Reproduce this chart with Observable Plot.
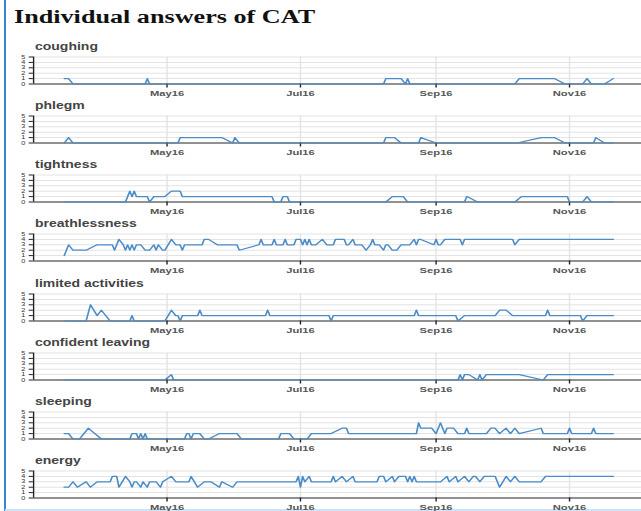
<!DOCTYPE html>
<html>
<head>
<meta charset="utf-8">
<script src="https://cdn.jsdelivr.net/npm/d3@7"></script>
<script src="https://cdn.jsdelivr.net/npm/@observablehq/plot@0.6"></script>
<style>
  html, body { margin: 0; padding: 0; background: #fff; }
  #page { position: relative; width: 641px; height: 511px; overflow: hidden; }
  #border { position: absolute; left: 4px; top: 0; width: 2px; height: 511px; background: #3a86d6; }
  #bottom { position: absolute; left: 5px; top: 509px; width: 636px; height: 2px; background: #cfe3f7; }
  #wrap { position: absolute; left: 0; top: 0; width: 458px; height: 511px; transform: scale(1.3996, 1); transform-origin: 0 0; }
  .title { position: absolute; left: 10px; top: 8px; font: bold 18.7px "Liberation Serif", "Times New Roman", serif; line-height: 18px; color: #111; white-space: nowrap; }
  .lbl { position: absolute; left: 25px; font: bold 10px "Liberation Sans", Arial, sans-serif; line-height: 12px; color: #444; white-space: nowrap; }
  .panel { position: absolute; left: 0; }
</style>
</head>
<body>
<div id="page">
  <div id="border"></div>
  <div id="bottom"></div>
  <div id="wrap"></div>
</div>
<script>
const titleText = "Individual answers of CAT";
const seriesNames = ["coughing", "phlegm", "tightness", "breathlessness", "limited activities", "confident leaving", "sleeping", "energy"];
const monthTicks = ["2016-05-01", "2016-07-01", "2016-09-01", "2016-11-01"];
const yTicks = [0, 1, 2, 3, 4, 5];
const xDomain = ["2016-03-01", "2016-12-04"];

const coughing = [["2016-03-15",1],["2016-03-17",1],["2016-03-19",0],["2016-04-21",0],["2016-04-22",1],["2016-04-23",0],["2016-08-08",0],["2016-08-09",1],["2016-08-16",1],["2016-08-18",0],["2016-08-19",1],["2016-08-20",0],["2016-10-07",0],["2016-10-09",1],["2016-10-25",1],["2016-10-30",0],["2016-11-07",0],["2016-11-09",1],["2016-11-11",0],["2016-11-17",0],["2016-11-21",1]];

const phlegm = [["2016-03-15",0],["2016-03-17",1],["2016-03-19",0],["2016-05-06",0],["2016-05-07",1],["2016-05-26",1],["2016-05-31",0],["2016-06-01",1],["2016-06-03",0],["2016-08-08",0],["2016-08-09",1],["2016-08-13",1],["2016-08-16",0],["2016-08-24",0],["2016-08-25",1],["2016-09-01",0],["2016-10-08",0],["2016-10-19",1],["2016-10-25",1],["2016-10-30",0],["2016-11-12",0],["2016-11-13",1],["2016-11-17",0],["2016-11-21",0]];

const tightness = [["2016-03-15",0],["2016-04-12",0],["2016-04-14",2],["2016-04-15",1],["2016-04-16",2],["2016-04-17",1],["2016-04-22",1],["2016-04-23",0],["2016-04-25",1],["2016-04-30",1],["2016-05-03",2],["2016-05-07",2],["2016-05-08",1],["2016-06-18",1],["2016-06-19",0],["2016-06-22",0],["2016-06-23",1],["2016-06-25",1],["2016-06-26",0],["2016-08-09",0],["2016-08-12",1],["2016-08-17",1],["2016-08-19",0],["2016-09-14",0],["2016-09-15",1],["2016-09-20",0],["2016-10-07",0],["2016-10-10",1],["2016-10-31",1],["2016-11-01",0],["2016-11-07",0],["2016-11-09",1],["2016-11-11",0],["2016-11-21",0]];

const breathlessness = [["2016-03-15",1],["2016-03-17",3],["2016-03-19",2],["2016-03-25",2],["2016-03-30",3],["2016-04-06",3],["2016-04-07",2],["2016-04-09",4],["2016-04-11",3],["2016-04-12",2],["2016-04-13",3],["2016-04-14",2],["2016-04-15",3],["2016-04-16",2],["2016-04-17",3],["2016-04-19",3],["2016-04-21",2],["2016-04-23",2],["2016-04-25",3],["2016-04-26",2],["2016-04-27",3],["2016-04-29",2],["2016-04-30",2],["2016-05-03",4],["2016-05-05",3],["2016-05-07",3],["2016-05-08",2],["2016-05-09",3],["2016-05-17",3],["2016-05-18",4],["2016-05-20",4],["2016-05-24",3],["2016-06-02",3],["2016-06-03",2],["2016-06-12",3],["2016-06-13",4],["2016-06-14",3],["2016-06-18",3],["2016-06-19",4],["2016-06-20",3],["2016-06-23",3],["2016-06-24",4],["2016-06-25",3],["2016-06-28",3],["2016-06-29",4],["2016-07-01",4],["2016-07-02",3],["2016-07-03",4],["2016-07-04",3],["2016-07-05",4],["2016-07-06",3],["2016-07-08",3],["2016-07-11",4],["2016-07-13",3],["2016-07-16",3],["2016-07-17",4],["2016-07-21",4],["2016-07-22",3],["2016-07-23",3],["2016-07-25",4],["2016-07-26",3],["2016-07-29",3],["2016-07-31",2],["2016-08-02",3],["2016-08-03",4],["2016-08-04",3],["2016-08-06",3],["2016-08-08",2],["2016-08-09",3],["2016-08-10",3],["2016-08-12",2],["2016-08-14",2],["2016-08-16",3],["2016-08-20",3],["2016-08-22",4],["2016-08-23",3],["2016-08-24",4],["2016-08-25",4],["2016-08-31",3],["2016-09-01",4],["2016-09-02",3],["2016-09-03",3],["2016-09-05",4],["2016-09-12",4],["2016-09-13",3],["2016-09-14",4],["2016-10-06",4],["2016-10-07",3],["2016-10-09",4],["2016-11-21",4]];

const limitedActivities = [["2016-03-15",0],["2016-03-25",0],["2016-03-27",3],["2016-03-30",1],["2016-04-01",2],["2016-04-05",0],["2016-04-14",0],["2016-04-15",1],["2016-04-16",0],["2016-04-30",0],["2016-05-03",2],["2016-05-05",1],["2016-05-06",1],["2016-05-07",0],["2016-05-08",1],["2016-05-15",1],["2016-05-16",2],["2016-05-17",1],["2016-06-15",1],["2016-06-16",2],["2016-06-17",1],["2016-07-14",1],["2016-07-15",0],["2016-07-16",1],["2016-08-22",1],["2016-08-23",2],["2016-08-24",1],["2016-09-10",1],["2016-09-11",0],["2016-09-14",1],["2016-09-28",1],["2016-09-30",2],["2016-10-03",2],["2016-10-06",1],["2016-10-21",1],["2016-10-22",2],["2016-10-23",1],["2016-11-06",1],["2016-11-07",0],["2016-11-09",1],["2016-11-21",1]];

const confidentLeaving = [["2016-03-15",0],["2016-04-30",0],["2016-05-03",1],["2016-05-04",0],["2016-09-11",0],["2016-09-12",1],["2016-09-13",0],["2016-09-14",1],["2016-09-16",1],["2016-09-20",0],["2016-09-21",1],["2016-09-22",0],["2016-09-24",1],["2016-10-09",1],["2016-10-20",0],["2016-10-22",1],["2016-11-21",1]];

const sleeping = [["2016-03-15",1],["2016-03-17",1],["2016-03-19",0],["2016-03-22",0],["2016-03-24",1],["2016-03-26",2],["2016-03-29",1],["2016-04-01",0],["2016-04-14",0],["2016-04-15",1],["2016-04-17",1],["2016-04-18",0],["2016-04-19",1],["2016-04-20",0],["2016-04-21",1],["2016-04-22",0],["2016-05-09",0],["2016-05-10",1],["2016-05-11",1],["2016-05-12",0],["2016-05-13",1],["2016-05-16",1],["2016-05-18",0],["2016-05-20",0],["2016-05-25",1],["2016-06-02",1],["2016-06-04",0],["2016-06-21",0],["2016-06-22",1],["2016-06-26",1],["2016-06-28",0],["2016-07-04",0],["2016-07-06",1],["2016-07-15",1],["2016-07-20",2],["2016-07-22",2],["2016-07-23",1],["2016-08-23",1],["2016-08-24",3],["2016-08-25",2],["2016-08-30",2],["2016-09-01",1],["2016-09-03",3],["2016-09-05",1],["2016-09-06",2],["2016-09-09",2],["2016-09-11",1],["2016-09-14",1],["2016-09-15",2],["2016-09-16",1],["2016-09-24",1],["2016-09-26",2],["2016-09-28",2],["2016-09-30",1],["2016-10-03",2],["2016-10-05",1],["2016-10-07",2],["2016-10-09",1],["2016-10-19",2],["2016-10-20",1],["2016-10-31",1],["2016-11-01",2],["2016-11-02",1],["2016-11-11",1],["2016-11-12",2],["2016-11-13",1],["2016-11-21",1]];

const energy = [["2016-03-15",2],["2016-03-17",2],["2016-03-19",3],["2016-03-21",2],["2016-03-25",3],["2016-03-27",2],["2016-03-30",3],["2016-04-05",3],["2016-04-06",4],["2016-04-08",4],["2016-04-09",2],["2016-04-12",4],["2016-04-14",3],["2016-04-15",2],["2016-04-16",3],["2016-04-17",3],["2016-04-19",2],["2016-04-20",3],["2016-04-22",2],["2016-04-23",3],["2016-04-26",3],["2016-04-28",2],["2016-04-29",3],["2016-05-03",4],["2016-05-05",3],["2016-05-11",3],["2016-05-12",4],["2016-05-15",2],["2016-05-18",3],["2016-05-21",3],["2016-05-25",2],["2016-05-26",3],["2016-05-31",2],["2016-06-02",3],["2016-06-29",3],["2016-06-30",4],["2016-07-01",2],["2016-07-02",4],["2016-07-03",3],["2016-07-05",4],["2016-07-06",3],["2016-07-15",3],["2016-07-16",4],["2016-07-17",3],["2016-07-20",4],["2016-07-22",3],["2016-07-25",4],["2016-07-26",3],["2016-08-05",3],["2016-08-06",4],["2016-08-08",4],["2016-08-09",3],["2016-08-12",4],["2016-08-13",3],["2016-08-15",4],["2016-08-18",4],["2016-08-19",3],["2016-08-20",4],["2016-08-21",3],["2016-08-22",4],["2016-08-23",3],["2016-09-03",3],["2016-09-06",4],["2016-09-07",3],["2016-09-10",4],["2016-09-11",3],["2016-09-14",4],["2016-09-16",3],["2016-09-18",4],["2016-09-19",4],["2016-09-21",3],["2016-09-23",4],["2016-09-28",4],["2016-09-30",2],["2016-10-03",4],["2016-10-05",3],["2016-10-07",4],["2016-10-09",3],["2016-10-19",3],["2016-10-21",4],["2016-11-21",4]];

const seriesData = [coughing, phlegm, tightness, breathlessness, limitedActivities, confidentLeaving, sleeping, energy];

const wrap = document.getElementById("wrap");
const t = document.createElement("div");
t.className = "title";
t.textContent = titleText;
wrap.appendChild(t);

const parse = s => new Date(s + "T00:00:00Z");
const ticks = monthTicks.map(parse);
const dom = xDomain.map(parse);
const pitch = 59.14;

seriesNames.forEach((name, k) => {
  const top = 41 + pitch * k;
  const lab = document.createElement("div");
  lab.className = "lbl";
  lab.style.top = top + "px";
  lab.textContent = name;
  wrap.appendChild(lab);

  const rows = seriesData[k].map(([d, v]) => ({date: parse(d), value: v}));
  const chart = Plot.plot({
    width: 458,
    height: 47,
    marginLeft: 23.5,
    marginRight: 0,
    marginTop: 3.5,
    marginBottom: 16.5,
    x: {type: "utc", domain: dom},
    y: {domain: [0, 5]},
    style: {fontFamily: "'Liberation Sans', Arial, sans-serif", background: "transparent", overflow: "visible"},
    marks: [
      Plot.gridY(yTicks, {stroke: "#e3e3e3", strokeOpacity: 1}),
      Plot.gridX(ticks, {stroke: "#e3e3e3", strokeOpacity: 1}),
      Plot.ruleY([0], {stroke: "#333", strokeWidth: 1}),
      Plot.ruleX([dom[0]], {y1: 0, y2: 5, stroke: "#222", strokeWidth: 1}),
      Plot.axisY(yTicks, {tickSize: 3, tickPadding: 3, fontSize: 5.2, stroke: "#222", fill: "#333", label: null}),
      Plot.axisX(ticks, {tickSize: 4, tickPadding: 2, fontSize: 8, fontWeight: "bold", fill: "#555", stroke: "#222", tickFormat: d3.utcFormat("%b%y"), label: null}),
      Plot.line(rows, {x: "date", y: "value", stroke: "#4a8cc8", strokeWidth: 1.2})
    ]
  });
  chart.classList.add("panel");
  chart.style.top = (top + 12) + "px";
  chart.style.position = "absolute";
  wrap.appendChild(chart);
});
</script>
</body>
</html>
